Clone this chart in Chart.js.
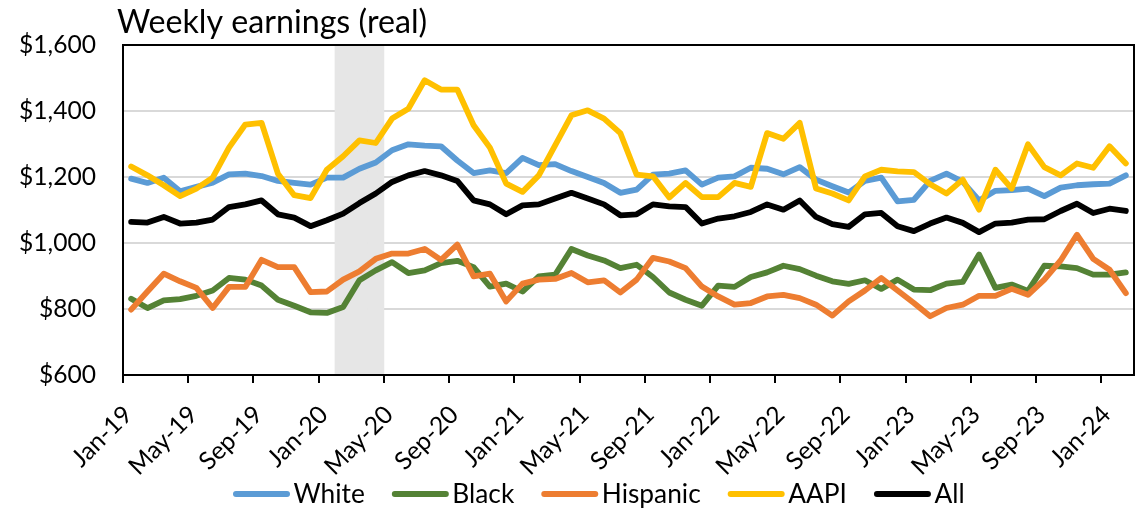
<!DOCTYPE html>
<html>
<head>
<meta charset="utf-8">
<script src="https://cdn.jsdelivr.net/npm/chart.js@4.4.1/dist/chart.umd.min.js"></script>
<style>
  html, body { margin: 0; padding: 0; background: #ffffff; }
  #wrap { width: 1146px; height: 509px; position: relative; }
  canvas { display: block; }
</style>
</head>
<body>
<div id="wrap"><canvas id="chart" width="1146" height="509"></canvas></div>
<script>
// ---------- DATA ----------
const chartTitle = 'Weekly earnings (real)';

const months = [
  'Jan-19','Feb-19','Mar-19','Apr-19','May-19','Jun-19','Jul-19','Aug-19','Sep-19','Oct-19','Nov-19','Dec-19',
  'Jan-20','Feb-20','Mar-20','Apr-20','May-20','Jun-20','Jul-20','Aug-20','Sep-20','Oct-20','Nov-20','Dec-20',
  'Jan-21','Feb-21','Mar-21','Apr-21','May-21','Jun-21','Jul-21','Aug-21','Sep-21','Oct-21','Nov-21','Dec-21',
  'Jan-22','Feb-22','Mar-22','Apr-22','May-22','Jun-22','Jul-22','Aug-22','Sep-22','Oct-22','Nov-22','Dec-22',
  'Jan-23','Feb-23','Mar-23','Apr-23','May-23','Jun-23','Jul-23','Aug-23','Sep-23','Oct-23','Nov-23','Dec-23',
  'Jan-24','Feb-24'
];

const xTickLabels = [
  'Jan-19','May-19','Sep-19','Jan-20','May-20','Sep-20','Jan-21','May-21','Sep-21',
  'Jan-22','May-22','Sep-22','Jan-23','May-23','Sep-23','Jan-24'
];

const yTickValues = [600, 800, 1000, 1200, 1400, 1600];

const recessionMonths = ['Feb-20', 'Mar-20', 'Apr-20'];

const seriesNames = ['White', 'Black', 'Hispanic', 'AAPI', 'All'];

const whiteEarnings = [
  1195,1182,1198,1157,1170,1183,1208,1210,1203,1188,1182,1177,
  1198,1198,1225,1244,1281,1299,1295,1293,1250,1212,1220,1212,
  1258,1236,1239,1218,1200,1182,1152,1162,1207,1210,1220,1177,
  1198,1202,1228,1225,1208,1230,1192,1172,1153,1188,1198,1126,
  1131,1188,1210,1185,1129,1158,1160,1165,1142,1168,1175,1178,
  1180,1205
];

const blackEarnings = [
  831,803,826,830,840,856,894,889,871,828,810,790,
  788,806,887,917,942,909,917,939,946,927,868,877,
  853,899,904,982,962,947,924,934,897,850,828,810,
  871,867,897,911,931,921,901,884,876,887,861,889,
  859,857,877,882,965,864,874,855,931,929,924,904,
  904,911
];

const hispanicEarnings = [
  798,853,907,884,864,803,867,867,949,927,927,851,
  853,889,914,952,968,968,982,949,995,899,907,823,
  877,889,891,909,881,887,850,889,955,944,924,868,
  838,813,818,838,843,833,813,780,823,856,894,856,
  818,778,803,813,840,840,861,843,889,947,1025,952,
  919,848
];

const aapiEarnings = [
  1232,1205,1175,1142,1165,1198,1289,1359,1364,1210,1145,1136,
  1222,1263,1311,1303,1377,1407,1493,1465,1465,1357,1289,1180,
  1155,1205,1296,1387,1402,1377,1333,1207,1202,1138,1182,1139,
  1139,1182,1170,1333,1316,1364,1165,1150,1129,1202,1222,1217,
  1215,1178,1150,1192,1101,1222,1165,1299,1230,1205,1241,1228,
  1293,1241
];

const allEarnings = [
  1064,1062,1079,1059,1062,1071,1109,1117,1129,1087,1077,1051,
  1069,1089,1121,1150,1185,1205,1218,1205,1188,1129,1117,1087,
  1114,1117,1135,1152,1135,1117,1084,1087,1117,1111,1109,1059,
  1074,1081,1094,1117,1101,1129,1079,1057,1049,1087,1091,1051,
  1036,1059,1077,1061,1033,1059,1062,1071,1072,1097,1119,1091,
  1104,1097
];

// ---------- STYLE ----------
const FONT = 'Lato';
const seriesColors = ['#5B9BD5', '#548235', '#ED7D31', '#FFC000', '#000000'];
const seriesValues = [whiteEarnings, blackEarnings, hispanicEarnings, aapiEarnings, allEarnings];
const drawOrder = [5, 4, 3, 2, 1];

function fitSize(text, targetWidth) {
  const c = document.createElement('canvas').getContext('2d');
  c.font = '100px ' + FONT;
  return Math.round(100 * targetWidth / c.measureText(text).width * 10) / 10;
}

function build() {
  const titleSize = fitSize('Weekly earnings (real)', 310);
  const yTickSize = fitSize('$1,600', 77);
  const xTickSize = fitSize('May-22', 85);
  const legendSize = fitSize('Hispanic', 99);

  const titlePlugin = {
    id: 'plainTitle',
    afterDraw(chart) {
      const ctx = chart.ctx;
      ctx.save();
      ctx.font = titleSize + 'px ' + FONT;
      ctx.fillStyle = '#000000';
      ctx.textAlign = 'left';
      ctx.textBaseline = 'alphabetic';
      ctx.fillText(chartTitle, 117, 33);
      ctx.restore();
    }
  };

  const framePlugin = {
    id: 'plotFrame',
    afterDatasetsDraw(chart) {
      const a = chart.chartArea;
      const ctx = chart.ctx;
      ctx.save();
      ctx.strokeStyle = '#000000';
      ctx.lineWidth = 2;
      ctx.strokeRect(a.left, a.top, a.right - a.left, a.bottom - a.top);
      ctx.restore();
    }
  };

  const legendPlugin = {
    id: 'lineLegend',
    afterDraw(chart) {
      const ctx = chart.ctx;
      ctx.save();
      ctx.font = legendSize + 'px ' + FONT;
      ctx.textAlign = 'left';
      ctx.textBaseline = 'alphabetic';
      let x = 233;
      const lineY = 494;
      const baseY = 503;
      const lineLen = 57;
      const lw = 6;
      chart.data.datasets.forEach(ds => {
        if (ds.type !== 'line') return;
        ctx.strokeStyle = ds.borderColor;
        ctx.lineWidth = lw;
        ctx.lineCap = 'round';
        ctx.beginPath();
        ctx.moveTo(x + lw / 2, lineY);
        ctx.lineTo(x + lineLen - lw / 2, lineY);
        ctx.stroke();
        x += lineLen + 3.5;
        ctx.fillStyle = '#000000';
        ctx.fillText(ds.label, x, baseY);
        x += ctx.measureText(ds.label).width + 27;
      });
      ctx.restore();
    }
  };

  const lineSets = seriesNames.map((name, k) => ({
    type: 'line',
    label: name,
    data: seriesValues[k],
    borderColor: seriesColors[k],
    backgroundColor: seriesColors[k],
    borderWidth: 5.8,
    borderJoinStyle: 'round',
    borderCapStyle: 'round',
    pointRadius: 0,
    pointHoverRadius: 0,
    tension: 0,
    fill: false,
    order: drawOrder[k]
  }));

  const shading = {
    type: 'bar',
    label: 'Recession',
    data: months.map(m => recessionMonths.includes(m) ? [yTickValues[0], yTickValues[yTickValues.length - 1]] : null),
    backgroundColor: '#e6e6e6',
    borderWidth: 0,
    barPercentage: 1,
    categoryPercentage: 1,
    order: 10
  };

  new Chart(document.getElementById('chart'), {
    type: 'line',
    data: { labels: months, datasets: [...lineSets, shading] },
    plugins: [titlePlugin, framePlugin, legendPlugin],
    options: {
      responsive: false,
      animation: false,
      events: [],
      devicePixelRatio: 1,
      layout: { padding: { top: 45, right: 12, left: 0, bottom: 0 } },
      plugins: { legend: { display: false }, title: { display: false }, tooltip: { enabled: false } },
      scales: {
        x: {
          type: 'category',
          offset: true,
          grid: {
            offset: true,
            drawOnChartArea: false,
            drawTicks: true,
            tickLength: 8,
            lineWidth: 2,
            color: c => (c.index % 4 === 0 ? '#000000' : 'rgba(0,0,0,0)')
          },
          border: { display: true, color: '#000000', width: 2 },
          ticks: {
            autoSkip: false,
            maxRotation: 45,
            minRotation: 45,
            padding: 17,
            labelOffset: -3,
            color: '#000000',
            font: { family: FONT, size: xTickSize },
            callback: function (v) {
              const l = this.getLabelForValue(v);
              return xTickLabels.includes(l) ? l : '';
            }
          },
          afterFit: s => { s.height = 134; s.paddingLeft = 0; s.paddingRight = 0; }
        },
        y: {
          min: yTickValues[0],
          max: yTickValues[yTickValues.length - 1],
          afterBuildTicks: s => { s.ticks = yTickValues.map(v => ({ value: v })); },
          grid: { color: '#d9d9d9', lineWidth: 2, drawTicks: false },
          border: { display: true, color: '#000000', width: 2 },
          ticks: {
            padding: 27,
            color: '#000000',
            font: { family: FONT, size: yTickSize },
            callback: v => '$' + Number(v).toLocaleString('en-US')
          },
          afterFit: s => { s.width = 123; s.paddingTop = 0; s.paddingBottom = 0; }
        }
      }
    }
  });
}

if (document.fonts && document.fonts.load) {
  Promise.all([document.fonts.load('20px Lato')]).then(build, build);
} else {
  build();
}
</script>
</body>
</html>
